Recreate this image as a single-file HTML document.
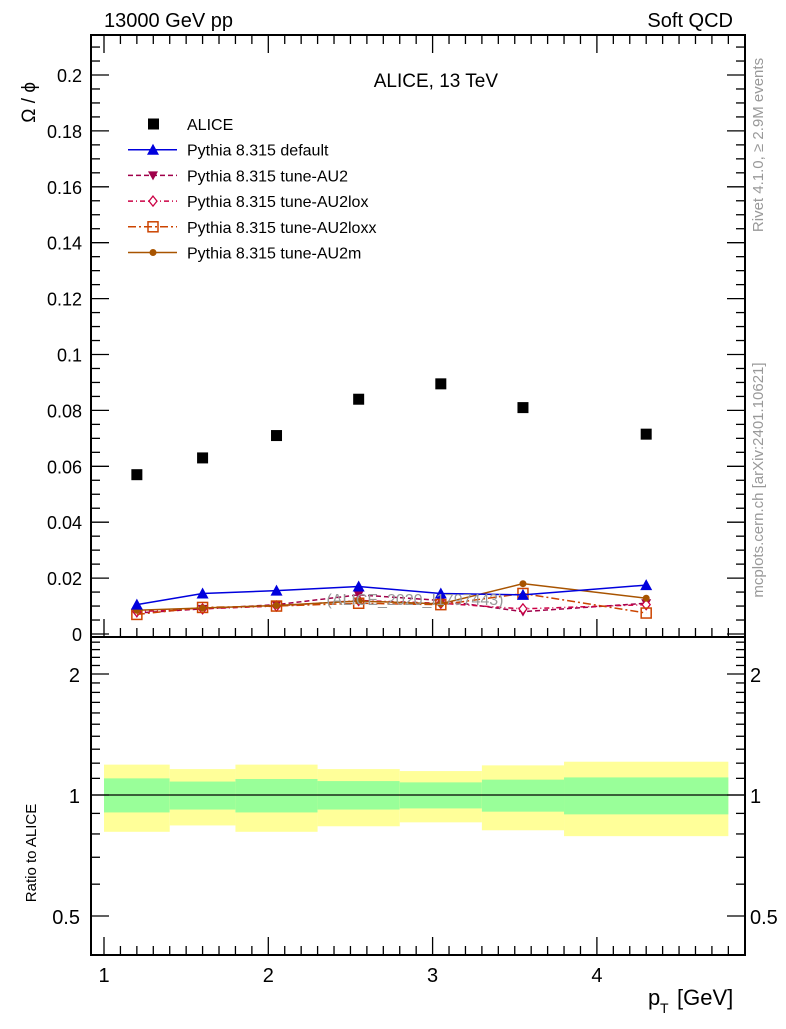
<!DOCTYPE html>
<html><head><meta charset="utf-8"><style>
body{margin:0;background:#fff}
svg text{font-family:"Liberation Sans",sans-serif}
</style></head><body>
<svg id="c" width="786" height="1024" xmlns="http://www.w3.org/2000/svg"></svg>
<script>
const xCenters=[1.2,1.6,2.05,2.55,3.05,3.55,4.3];
const binEdges=[1,1.4,1.8,2.3,2.8,3.3,3.8,4.8];
const aliceY=[0.057,0.063,0.071,0.084,0.0895,0.081,0.0715];
const defaultY=[0.0105,0.0145,0.0155,0.017,0.0145,0.014,0.0175];
const au2Y=[0.0075,0.009,0.0105,0.014,0.012,0.008,0.011];
const au2loxY=[0.008,0.009,0.010,0.012,0.011,0.009,0.0105];
const au2loxxY=[0.007,0.0095,0.010,0.011,0.0105,0.0145,0.0075];
const au2mY=[0.0085,0.0093,0.0102,0.0118,0.0108,0.018,0.0128];
const yellowHi=[1.19,1.16,1.19,1.16,1.147,1.185,1.21];
const yellowLo=[0.81,0.84,0.81,0.836,0.855,0.817,0.79];
const greenHi=[1.10,1.08,1.096,1.083,1.075,1.092,1.106];
const greenLo=[0.905,0.92,0.905,0.92,0.926,0.909,0.895];
const yTicks=[0,0.02,0.04,0.06,0.08,0.1,0.12,0.14,0.16,0.18,0.2];
const yTickLabels=["0","0.02","0.04","0.06","0.08","0.1","0.12","0.14","0.16","0.18","0.2"];
const xTicks=[1,2,3,4];
const rTicks=[0.5,1,2];

const svg=document.getElementById('c');
const NS='http://www.w3.org/2000/svg';
const L=91,R=745,T=35,MB=637,RT=637,RB=955;
const X=v=>104+(v-1)*164.3;
const Y=v=>634-v/0.02*55.9;
const RY=v=>795-Math.log2(v)*121;
function el(tag,attrs,parent){const e=document.createElementNS(NS,tag);for(const k in attrs)e.setAttribute(k,attrs[k]);(parent||svg).appendChild(e);return e;}
function txt(s,x,y,attrs,name){const t=el('text',Object.assign({x:x,y:y,'font-size':18},attrs));t.textContent=s;


return t;}

// ratio bands
for(let i=0;i<7;i++){
 const r1=el('rect',{x:X(binEdges[i]),y:RY(yellowHi[i]),width:X(binEdges[i+1])-X(binEdges[i]),height:RY(yellowLo[i])-RY(yellowHi[i]),fill:'#ffff99'});
 
 
 const r2=el('rect',{x:X(binEdges[i]),y:RY(greenHi[i]),width:X(binEdges[i+1])-X(binEdges[i]),height:RY(greenLo[i])-RY(greenHi[i]),fill:'#99ff99'});
 
 
}
el('line',{x1:L,x2:R,y1:RY(1),y2:RY(1),stroke:'#000','stroke-width':1.3});

// frames
const f1=el('rect',{x:L,y:T,width:R-L,height:MB-T,fill:'none',stroke:'#000','stroke-width':2});


const f2=el('rect',{x:L,y:RT,width:R-L,height:RB-RT,fill:'none',stroke:'#000','stroke-width':2});



// x ticks
for(let v=0.9;v<=4.85;v+=0.1){
 const vv=Math.round(v*10)/10; if(X(vv)<L||X(vv)>R)continue;
 const major=Math.abs(vv-Math.round(vv))<1e-6;
 const len=major?18:9;
 el('line',{x1:X(vv),x2:X(vv),y1:MB,y2:MB-len,stroke:'#000','stroke-width':1.3});
 el('line',{x1:X(vv),x2:X(vv),y1:T,y2:T+len,stroke:'#000','stroke-width':1.3});
 el('line',{x1:X(vv),x2:X(vv),y1:RB,y2:RB-len,stroke:'#000','stroke-width':1.3});
}
xTicks.forEach(v=>txt(String(v),X(v),982,{'text-anchor':'middle','font-size':20},'x-tick-label'));

// y ticks main
for(let v=0;v<=0.214;v+=0.005){
 const major=Math.abs(v/0.02-Math.round(v/0.02))<1e-6;
 const len=major?18:9;
 el('line',{x1:L,x2:L+len,y1:Y(v),y2:Y(v),stroke:'#000','stroke-width':1.3});
 el('line',{x1:R,x2:R-len,y1:Y(v),y2:Y(v),stroke:'#000','stroke-width':1.3});
}
yTicks.forEach((v,i)=>txt(yTickLabels[i],82,Y(v)+7,{'text-anchor':'end'},'y-tick-label'));

// ratio ticks
[0.4,0.5,0.6,0.7,0.8,0.9,1,1.1,1.2,1.3,1.4,1.5,1.6,1.7,1.8,1.9,2,2.1,2.2,2.3,2.4,2.5].forEach(v=>{
 const major=rTicks.includes(v); const len=major?18:9; if(RY(v)<RT||RY(v)>RB)return;
 el('line',{x1:L,x2:L+len,y1:RY(v),y2:RY(v),stroke:'#000','stroke-width':1.3});
 el('line',{x1:R,x2:R-len,y1:RY(v),y2:RY(v),stroke:'#000','stroke-width':1.3});
});
rTicks.forEach(v=>{txt(String(v),80,RY(v)+8,{'text-anchor':'end','font-size':20},'ratio-tick-label');txt(String(v),750,RY(v)+8,{'font-size':20},'ratio-tick-label-right');});

// series
function series(vals,color,dash,marker,name){
 const pts=xCenters.map((x,i)=>X(x)+','+Y(vals[i])).join(' ');
 const p=el('polyline',{points:pts,fill:'none',stroke:color,'stroke-width':1.5,'stroke-dasharray':dash});
 
 
 xCenters.forEach((x,i)=>{const m=marker(X(x),Y(vals[i]),color);
 
 });
}
const tri=(x,y,c)=>el('polygon',{points:`${x-6},${y+5} ${x+6},${y+5} ${x},${y-6}`,fill:c});
const itri=(x,y,c)=>el('polygon',{points:`${x-5},${y-4} ${x+5},${y-4} ${x},${y+5}`,fill:c});
const dia=(x,y,c)=>el('polygon',{points:`${x},${y-5} ${x+4},${y} ${x},${y+5} ${x-4},${y}`,fill:'#fff',stroke:c,'stroke-width':1.3});
const sq=(x,y,c)=>el('rect',{x:x-5,y:y-5,width:10,height:10,fill:'none',stroke:c,'stroke-width':1.5});
const star=(x,y,c)=>el('circle',{cx:x,cy:y,r:3.5,fill:c});
series(au2Y,'#a0004a','5,3',itri,'au2');
series(au2loxY,'#cc0044','5,3,1,3',dia,'au2lox');
series(au2loxxY,'#cc4400','8,3,2,3',sq,'au2loxx');
series(au2mY,'#a85400','',star,'au2m');
series(defaultY,'#0000dd','',tri,'default');
txt('(ALICE_2020_I1797443)',415,605,{'text-anchor':'middle',fill:'#999','font-size':16},'analysis-label');
xCenters.forEach((x,i)=>{const r=el('rect',{x:X(x)-5.5,y:Y(aliceY[i])-5.5,width:11,height:11,fill:'#000'});
 
 });

// legend
const leg=[['ALICE',null],['Pythia 8.315 default','#0000dd','',tri],['Pythia 8.315 tune-AU2','#a0004a','5,3',itri],['Pythia 8.315 tune-AU2lox','#cc0044','5,3,1,3',dia],['Pythia 8.315 tune-AU2loxx','#cc4400','8,3,2,3',sq],['Pythia 8.315 tune-AU2m','#a85400','',star]];
leg.forEach((l,i)=>{const y=124+i*25.7;
 if(l[1]){el('line',{x1:128,x2:177,y1:y,y2:y,stroke:l[1],'stroke-width':1.5,'stroke-dasharray':l[2]});l[3](153,y,l[1]);}
 else el('rect',{x:148,y:y-5.5,width:11,height:11,fill:'#000'});
 txt(l[0],187,y+6,{'font-size':16},'legend-entry');});

txt('ALICE, 13 TeV',498,87,{'text-anchor':'end','font-size':19},'plot-title');
txt('13000 GeV pp',104,27,{'font-size':20},'beam-label');
txt('Soft QCD',733,27,{'text-anchor':'end','font-size':20},'process-label');
txt('p',648,1005,{'font-size':22},'x-axis-title');
txt('T',660,1013,{'font-size':14},'x-axis-title-sub');
txt('[GeV]',677,1005,{'font-size':22},'x-axis-title-unit');
txt('Ω / ϕ',35,82,{'text-anchor':'end','font-size':19,transform:'rotate(-90 35 82)'},'y-axis-title');
txt('Ratio to ALICE',36,853,{'text-anchor':'middle','font-size':15,transform:'rotate(-90 36 853)'},'ratio-axis-title');
txt('Rivet 4.1.0, ≥ 2.9M events',763,145,{'text-anchor':'middle','font-size':15,fill:'#999',transform:'rotate(-90 763 145)'},'rivet-label');
txt('mcplots.cern.ch [arXiv:2401.10621]',763,480,{'text-anchor':'middle','font-size':15,fill:'#999',transform:'rotate(-90 763 480)'},'mcplots-label');
</script>
</body></html>
